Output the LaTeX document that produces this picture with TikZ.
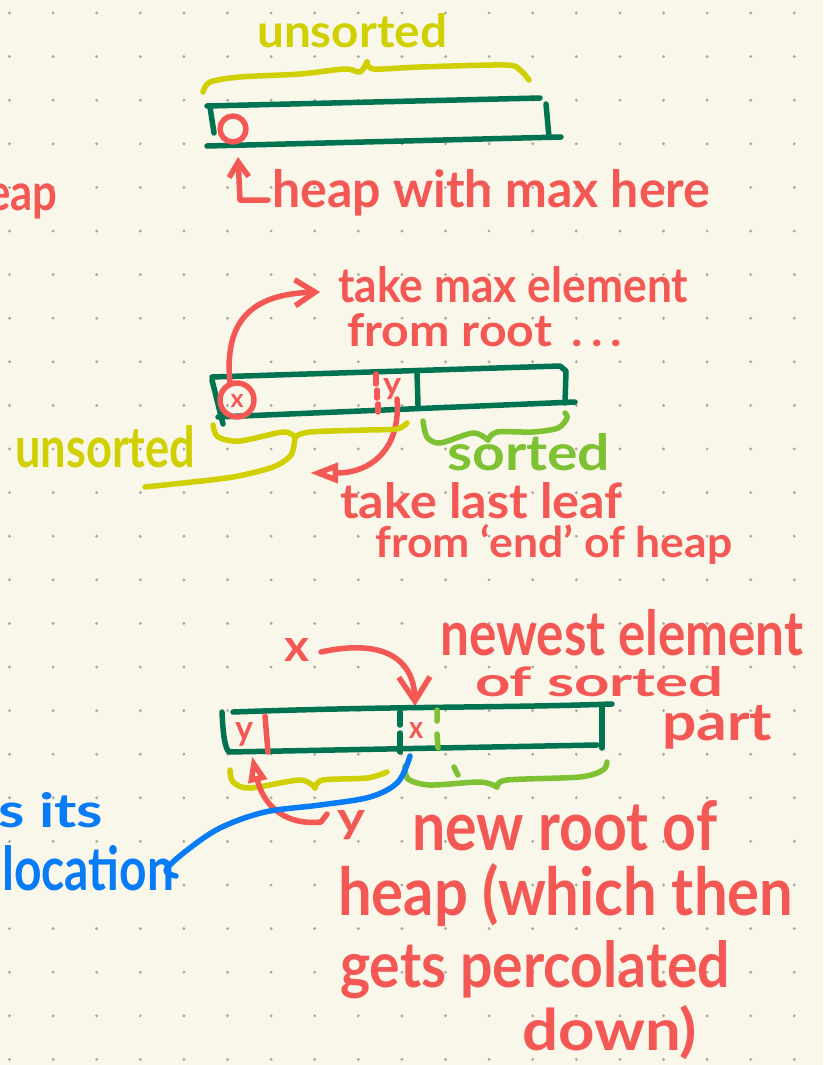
\documentclass[tikz,border=0pt]{standalone}
\usepackage{fontspec}
\setmainfont{Lato}
\usetikzlibrary{arrows.meta}
\definecolor{paper}{RGB}{249,246,234}
\definecolor{dotgray}{RGB}{170,170,162}
\definecolor{boxgreen}{RGB}{0,115,80}
\definecolor{inkred}{RGB}{243,88,84}
\definecolor{inkyellow}{RGB}{208,208,0}
\definecolor{inklime}{RGB}{126,194,52}
\definecolor{inkblue}{RGB}{8,124,246}
% handwritten-looking line of text, stretched to a given width and height
\newcommand\hand[3]{\resizebox{#1pt}{#2pt}{\bfseries #3}}

\begin{document}
\begin{tikzpicture}[x=1pt,y=-1pt,
  stroke/.style={line width=5.5pt,line cap=round,line join=round},
  boxline/.style={stroke,draw=boxgreen},
  redink/.style={stroke,draw=inkred},
  yelink/.style={stroke,draw=inkyellow},
  limeink/.style={stroke,draw=inklime},
  blueink/.style={stroke,draw=inkblue},
  txt/.style={inner sep=0pt,anchor=base west},
  redtxt/.style={txt,text=inkred},
  yeltxt/.style={txt,text=inkyellow},
  limetxt/.style={txt,text=inklime},
  bluetxt/.style={txt,text=inkblue},
  barb/.style={-{Straight Barb[length=#1,width=#1*1.3]}},
  opentri/.style={-{Triangle[open,length=#1,width=#1*0.7]}}
]
% paper and dot grid
\useasboundingbox (0,0) rectangle (823,1065);
\fill[paper] (0,0) rectangle (823,1065);
\foreach \i in {0,...,18}
  \foreach \j in {0,...,24}
    \fill[dotgray] ({9.5+43.6*\i},{13+43.6*\j}) circle (1.6pt);

% ---------- heap, nothing sorted yet ----------
\node[yeltxt] (unsA) at (257,47) {\hand{190}{34}{unsorted}};
\draw[yelink] plot[smooth,tension=.5] coordinates
  {(203,92) (210,82) (240,77) (300,74) (345,69) (360,72) (367,62)};
\draw[yelink] plot[smooth,tension=.5] coordinates
  {(367,62) (374,69) (420,67) (505,65) (520,70) (529,80)};
\draw[boxline] (207,106) -- (540,98);
\draw[boxline] (546,104) -- (549,137);
\draw[boxline] (207,146) -- (561,137);
\draw[boxline] (210,107) -- (214,133);
\draw[redink] (233,129) circle (13pt);
\coordinate (maxA) at (238,157);
\coordinate (tailA) at (268,200);
\draw[redink,barb=15pt] (tailA) -- (240,200) -- (maxA);
\node[redtxt] (heapA) at (272,207) {\hand{438}{38}{heap with max here}};
\node[redtxt,anchor=base east] (heapL) at (58,210) {\hand{95}{38}{heap}};

% ---------- swapping root and last leaf ----------
\draw[boxline] (212,377) -- (560,366) -- (566,371) -- (565,403);
\draw[boxline] (218,417) -- (575,402);
\draw[boxline] (212,380) -- (223,424);
\draw[boxline] (417,372) -- (418,405);
\draw[redink] (237,400) circle (17pt);
\node[text=inkred,inner sep=0pt] (xB) at (237,401) {\hand{13}{13}{x}};
\draw[redink] (376,374) -- (376,384) (377,390) -- (377,398) (378,404) -- (378,412);
\node[text=inkred,inner sep=0pt,anchor=base] (yB) at (392,394) {\hand{18}{16}{y}};
\node[redtxt] (takeMax) at (338,302) {\hand{350}{36}{take max element}};
\node[redtxt] (fromRoot) at (347,346) {\hand{275}{33}{from root \,.\,.\,.}};
\coordinate (rootB) at (230,383);
\coordinate (maxTip) at (320,292);
\draw[redink,barb=20pt] (rootB) .. controls (224,322) and (250,294) .. (maxTip);
\coordinate (leafB) at (397,399);
\coordinate (leafTip) at (310,473);
\draw[redink,opentri=28pt] (leafB) .. controls (401,450) and (370,473) .. (leafTip);
\draw[yelink] plot[smooth,tension=.5] coordinates
  {(213,425) (218,437) (240,441) (283,432) (295,437)};
\draw[yelink] plot[smooth,tension=.5] coordinates
  {(295,437) (310,432) (367,430) (397,429) (407,423)};
\draw[yelink] plot[smooth,tension=.5] coordinates
  {(295,437) (291,455) (273,467) (233,477) (183,483) (145,487)};
\node[yeltxt] (unsB) at (15,467) {\hand{180}{42}{unsorted}};
\draw[limeink] plot[smooth,tension=.5] coordinates
  {(423,421) (427,437) (440,443) (473,433) (488,440)};
\draw[limeink] plot[smooth,tension=.5] coordinates
  {(488,440) (497,432) (533,432) (558,428) (567,418) (565,413)};
\node[limetxt] (sortB) at (447,470) {\hand{163}{37}{sorted}};
\node[redtxt] (takeLeaf) at (340,518) {\hand{282}{36}{take last leaf}};
\node[redtxt] (fromEnd) at (375,557) {\hand{357}{33}{from `end' of heap}};

% ---------- after the swap ----------
\node[text=inkred,inner sep=0pt,anchor=base] (xC) at (297,661) {\hand{25}{23}{x}};
\coordinate (xTail) at (321,652);
\coordinate (xTip) at (415,706);
\draw[redink,barb=24pt] (xTail) .. controls (385,638) and (414,660) .. (xTip);
\node[redtxt] (newest) at (440,655) {\hand{363}{46}{newest element}};
\node[redtxt] (ofSorted) at (475,696) {\hand{248}{30}{of sorted}};
\node[redtxt] (part) at (662,740) {\hand{110}{35}{part}};
\draw[boxline] (233,712) .. controls (400,706) and (500,708) .. (612,704);
\draw[boxline] (602,707) -- (602,748);
\draw[boxline] (222,712) .. controls (223,735) and (225,748) .. (229,752) -- (597,745);
\draw[boxline] (400,712) -- (400,725) (400,733) -- (400,752);
\draw[limeink] (437,710) -- (437,721) (437,734) -- (438,748);
\node[text=inkred,inner sep=0pt,anchor=base] (yC) at (244,740) {\hand{18}{18}{y}};
\draw[redink] (265,716) -- (268,752);
\node[text=inkred,inner sep=0pt,anchor=base] (xD) at (416,738) {\hand{14}{16}{x}};
\draw[yelink] plot[smooth,tension=.5] coordinates
  {(230,770) (233,782) (250,788) (300,780) (315,788)};
\draw[yelink] plot[smooth,tension=.5] coordinates
  {(315,788) (323,780) (367,778) (387,772)};
\draw[limeink] plot[smooth,tension=.5] coordinates
  {(405,766) (408,779) (430,785) (480,782) (497,787)};
\draw[limeink] plot[smooth,tension=.5] coordinates
  {(497,787) (507,780) (580,777) (603,770) (607,762)};
\draw[limeink] (454,767) -- (458,775);
\coordinate (yHook) at (327,814);
\coordinate (yTip) at (252,756);
\draw[redink,opentri=26pt] (yHook) -- (321,822) .. controls (280,826) and (262,800) .. (yTip);
\node[redtxt] (yLabel) at (337,832) {\hand{28}{22}{y}};
\coordinate (blueStart) at (410,756);
\coordinate (blueEnd) at (176,876);
\draw[blueink] plot[smooth,tension=.55] coordinates
  {(blueStart) (398,782) (370,797) (320,805) (265,812) (220,828) (186,851) (166,870) (blueEnd)};
\node[bluetxt] (itsL) at (-2,827) {\hand{105}{35}{s its}};
\node[bluetxt] (locL) at (2,890) {\hand{172}{45}{location}};
\node[redtxt] (newRoot) at (412,850) {\hand{305}{50}{new root of}};
\node[redtxt] (heapWhich) at (338,915) {\hand{455}{52}{heap (which then}};
\node[redtxt] (gets) at (340,987) {\hand{390}{47}{gets percolated}};
\node[redtxt] (down) at (522,1050) {\hand{175}{45}{down)}};
\end{tikzpicture}
\end{document}
